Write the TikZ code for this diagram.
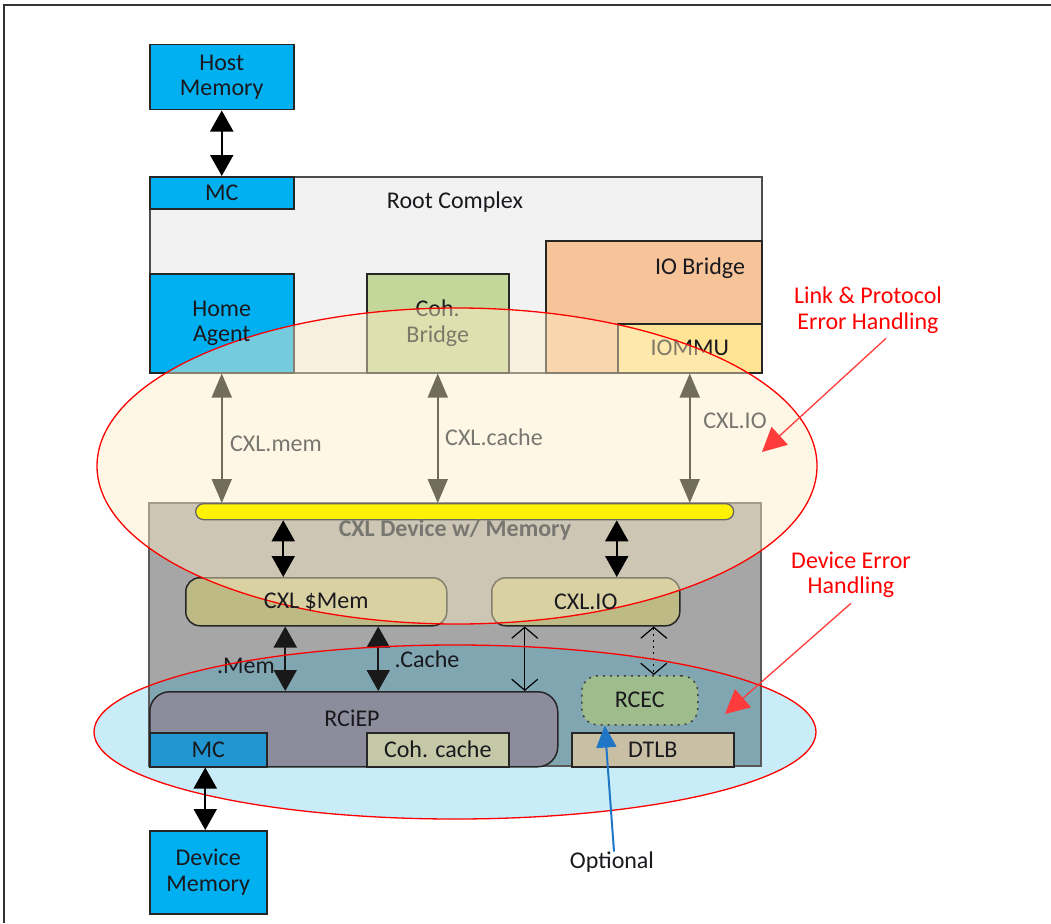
\documentclass[tikz,border=0pt]{standalone}
\usepackage{fontspec}
\setmainfont{Carlito}
\usetikzlibrary{arrows.meta,calc}
\definecolor{cyanbox}{RGB}{0,176,240}
\definecolor{rcfill}{RGB}{242,242,242}
\definecolor{cohb}{RGB}{196,215,155}
\definecolor{iob}{RGB}{247,196,154}
\definecolor{iommuc}{RGB}{255,228,150}
\definecolor{devgrey}{RGB}{166,166,166}
\definecolor{devblue}{RGB}{128,166,178}
\definecolor{lowell}{RGB}{200,236,248}
\definecolor{upell}{RGB}{255,238,200}
\definecolor{khaki}{RGB}{189,186,134}
\definecolor{rcecc}{RGB}{158,188,140}
\definecolor{rciepc}{RGB}{140,140,156}
\definecolor{mcbotc}{RGB}{33,150,208}
\definecolor{cohcc}{RGB}{196,200,166}
\definecolor{dtlbc}{RGB}{200,191,165}
\definecolor{greyarr}{RGB}{113,108,92}
\definecolor{greytxt}{RGB}{120,118,112}
\definecolor{boxline}{RGB}{38,38,38}
\definecolor{txt}{RGB}{25,25,30}
\definecolor{annred}{RGB}{255,60,60}
\definecolor{optblue}{RGB}{31,117,198}
\newcommand\mylbl{\fontsize{24}{25.5}\selectfont}
\begin{document}
\begin{tikzpicture}[x=1pt,y=-1pt,
  box/.style={draw=boxline, line width=1.5pt, inner sep=0pt, anchor=north west, align=center, font=\mylbl, text=txt},
  plain/.style={inner sep=0pt, align=center, font=\mylbl, text=txt},
  blkarrow/.style={draw=black, line width=2pt, {Triangle[length=21pt,width=23pt]}-{Triangle[length=21pt,width=23pt]}},
  greyarrow/.style={draw=greyarr, line width=1.6pt, {Triangle[length=24pt,width=20pt]}-{Triangle[length=24pt,width=20pt]}},
  thinarrow/.style={draw=black, line width=1.2pt, {Straight Barb[length=11pt,width=26pt]}-{Straight Barb[length=11pt,width=26pt]}},
  annarrow/.style={draw=annred, line width=1.3pt, -{Triangle[length=24pt,width=24pt]}},
  optarrow/.style={draw=optblue, line width=2pt, -{Triangle[length=22pt,width=20pt]}}
]
\useasboundingbox (0,0) rectangle (1051,923);
\fill[white] (0,0) rectangle (1051,923);
% frame
\draw[line width=1.5pt, draw=black!80] (4,923) -- (4,5) -- (1051,5);

% lower ellipse fill (behind)
\fill[lowell] (455,732) ellipse [x radius=361pt, y radius=87pt];

% host memory
\node[box, fill=cyanbox, minimum width=144pt, minimum height=65pt] (hostmem) at (149,44) {Host\\Memory};

% root complex
\node[draw=black!70, line width=2pt, fill=rcfill, inner sep=0pt, anchor=north west, minimum width=612pt, minimum height=196pt] (rc) at (149,176) {};
\node[plain] (rclbl) at (455,202) {Root Complex};
\node[box, fill=cyanbox, minimum width=144pt, minimum height=32pt] (mctop) at (149,176) {MC};
\node[box, fill=cyanbox, minimum width=144pt, minimum height=99pt] (homeagent) at (149,273) {};
\node[box, fill=cohb, minimum width=142pt, minimum height=99pt] (cohbridge) at (366,273) {Coh.\\Bridge};
\node[box, fill=iob, minimum width=216pt, minimum height=132pt] (iobridge) at (545,240) {};
\node[plain] (ioblbl) at (700,268) {IO Bridge};
\node[box, fill=iommuc, minimum width=144pt, minimum height=49pt] (iommu) at (617,323) {IOMMU};

\draw[blkarrow] (hostmem.south) -- (mctop.north);

% device box
\node[fill=devgrey, inner sep=0pt, anchor=north west, minimum width=612pt, minimum height=263pt] (device) at (149,503) {};
\begin{scope}
  \clip (455,732) ellipse [x radius=361pt, y radius=87pt];
  \fill[devblue] (device.north west) rectangle (device.south east);
\end{scope}
\draw[draw=black!65, line width=2pt] (device.north west) rectangle (device.south east);

\node[box, fill=khaki, rounded corners=14pt, minimum width=261pt, minimum height=48pt] (cxlmem) at (185,577) {};
\node[box, fill=khaki, rounded corners=14pt, minimum width=188pt, minimum height=48pt] (cxlio) at (491,577) {};

% upper ellipse overlay
\fill[upell, fill opacity=0.45] (457,466) ellipse [x radius=360pt, y radius=158pt];
\draw[red, line width=1.3pt] (457,466) ellipse [x radius=360pt, y radius=158pt];

% labels on top of overlay
\node[plain] at (homeagent.center) {Home\\Agent};
\node[plain] at (cxlmem.center) {CXL \$Mem};
\node[plain] at (cxlio.center) {CXL.IO};

% yellow bar
\node[draw=black!60, line width=1.3pt, fill=yellow, rounded corners=8pt, inner sep=0pt, anchor=north west, minimum width=538pt, minimum height=16pt] (bar) at (195,503) {};
\node[plain, text=greytxt, font=\mylbl\bfseries] (devlbl) at (455,530) {CXL Device w/ Memory};

% grey protocol arrows
\draw[greyarrow] (homeagent.south) -- (homeagent.south |- bar.north);
\draw[greyarrow] (cohbridge.south) -- (cohbridge.south |- bar.north);
\draw[greyarrow] (iommu.south) -- (iommu.south |- bar.north);
\node[plain, text=greytxt] at (276,444) {CXL.mem};
\node[plain, text=greytxt] at (494,437) {CXL.cache};
\node[plain, text=greytxt] at (735,421) {CXL.IO};

% black arrows bar -> blocks
\draw[blkarrow] ([xshift=-33pt]cxlmem.north |- bar.south) -- ([xshift=-33pt]cxlmem.north);
\draw[blkarrow] ([xshift=31pt]cxlio.north |- bar.south) -- ([xshift=31pt]cxlio.north);

% lower blocks
\node[box, fill=rciepc, rounded corners=20pt, minimum width=408pt, minimum height=75pt] (rciep) at (149,691) {};
\node[plain] at (352,718) {RCiEP};
\node[box, fill=mcbotc, minimum width=117pt, minimum height=34pt] (mcbot) at (149,732) {MC};
\node[box, fill=cohcc, minimum width=142pt, minimum height=34pt] (cohcache) at (366,732) {Coh. cache};
\node[box, fill=dtlbc, minimum width=162pt, minimum height=34pt] (dtlb) at (571,732) {DTLB};
\node[box, fill=rcecc, draw=black!75, dash pattern=on 2pt off 5pt, rounded corners=16pt, minimum width=116pt, minimum height=49pt] (rcec) at (581,675) {RCEC};

\draw[blkarrow, draw=black!90] ([xshift=-31pt]cxlmem.south) -- ([xshift=-31pt]cxlmem.south |- rciep.north);
\draw[blkarrow, draw=black!90] ([xshift=62pt]cxlmem.south) -- ([xshift=62pt]cxlmem.south |- rciep.north);
\node[plain] at (246,666) {.Mem};
\node[plain] at (427,659) {.Cache};
\draw[thinarrow] ([xshift=-61pt]cxlio.south) -- ([xshift=-61pt]cxlio.south |- rciep.north);
\draw[thinarrow, dash pattern=on 2pt off 4pt] ([xshift=14pt]rcec.north |- cxlio.south) -- ([xshift=14pt]rcec.north);

% lower ellipse outline
\draw[red, line width=1.3pt] (455,732) ellipse [x radius=361pt, y radius=87pt];

% device memory
\node[box, fill=cyanbox, minimum width=117pt, minimum height=83pt] (devmem) at (149,830) {Device\\Memory};
\draw[blkarrow] ([xshift=-3pt]mcbot.south) -- ([xshift=-3pt]devmem.north);

% annotations
\node[plain, text=red] (linklbl) at (868,310) {Link \& Protocol\\Error Handling};
\coordinate (linktip) at (762,452);
\draw[annarrow] ([xshift=18pt,yshift=-5pt]linklbl.south) -- (linktip);
\node[plain, text=red] (devlbl2) at (851,575) {Device Error\\Handling};
\coordinate (devtip) at (725,714);
\draw[annarrow] ([yshift=-5pt]devlbl2.south) -- (devtip);
\node[plain] (opt) at (612,862) {Optional};
\draw[optarrow] ([xshift=2pt]opt.north) -- ([xshift=-35pt]rcec.south);
\end{tikzpicture}
\end{document}
